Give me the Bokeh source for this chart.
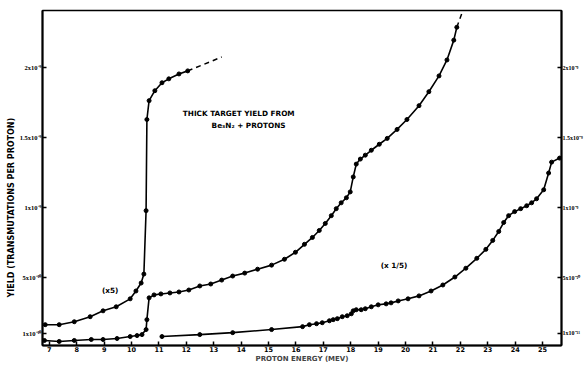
from bokeh.plotting import figure
from bokeh.models import LinearAxis, FixedTicker, Label, Range1d, Title
from bokeh.embed import file_html
from bokeh.resources import INLINE

# Yield values are plotted in units of 1e-10 transmutations per proton
# Curve "(x5)"
energy_x5 = [6.85, 7.36, 7.91, 8.49, 8.96, 9.44, 9.95, 10.16, 10.35, 10.45, 10.53, 10.56, 10.64, 10.85, 11.11, 11.36, 11.73, 12.05]
yield_x5 = [1.63, 1.63, 1.84, 2.20, 2.62, 2.91, 3.48, 4.04, 4.61, 5.25, 9.79, 16.31, 17.66, 18.37, 18.94, 19.22, 19.57, 19.79]
energy_x5_ext = [12.05, 13.29]
yield_x5_ext = [19.79, 20.78]

# Curve (x1)
energy_x1 = [6.82, 7.36, 7.91, 8.53, 8.96, 9.47, 9.95, 10.20, 10.38, 10.53, 10.56, 10.64, 10.82, 11.07, 11.40, 11.73,
             12.09, 12.49, 12.89, 13.29, 13.69, 14.13, 14.60, 15.11, 15.58, 15.98, 16.31, 16.60, 16.85, 17.07, 17.29,
             17.47, 17.65, 17.84, 17.98, 18.09, 18.20, 18.35, 18.53, 18.75, 19.04, 19.33, 19.69, 20.05, 20.49, 20.85,
             21.22, 21.51, 21.76, 21.87]
yield_x1 = [0.50, 0.43, 0.50, 0.57, 0.57, 0.64, 0.78, 0.85, 0.92, 1.28, 1.99, 3.55, 3.76, 3.83, 3.90, 3.97,
            4.11, 4.40, 4.54, 4.82, 5.11, 5.32, 5.60, 5.89, 6.31, 6.81, 7.38, 7.87, 8.37, 8.87, 9.43,
            9.93, 10.35, 10.71, 11.13, 12.20, 13.12, 13.48, 13.76, 14.11, 14.54, 14.96, 15.60, 16.31, 17.30, 18.30,
            19.43, 20.57, 21.99, 22.91]
energy_x1_ext = [21.87, 22.16]
yield_x1_ext = [22.91, 24.47]

# Curve "(x 1/5)"
energy_x15 = [11.11, 12.49, 13.69, 15.11, 16.24, 16.49, 16.75, 16.96, 17.22, 17.36, 17.51, 17.69, 17.87, 18.02, 18.09,
              18.20, 18.38, 18.53, 18.75, 19.00, 19.29, 19.47, 19.73, 20.09, 20.49, 20.93, 21.36, 21.80, 22.20, 22.60,
              22.93, 23.18, 23.40, 23.58, 23.76, 23.98, 24.20, 24.42, 24.60, 24.78, 25.04, 25.22, 25.33, 25.62]
yield_x15 = [0.78, 0.92, 1.06, 1.28, 1.49, 1.63, 1.70, 1.77, 1.91, 1.99, 2.06, 2.20, 2.27, 2.41, 2.62,
             2.70, 2.70, 2.77, 2.91, 3.05, 3.12, 3.19, 3.33, 3.48, 3.69, 4.04, 4.47, 5.04, 5.67, 6.38,
             7.02, 7.66, 8.30, 8.94, 9.43, 9.72, 9.93, 10.14, 10.35, 10.64, 11.28, 12.48, 13.26, 13.55]

x_ticks = list(range(7, 26))
y_ticks = [1, 5, 10, 15, 20]
left_labels = ["1x10⁻¹⁰", "5x10⁻¹⁰", "1x10⁻⁹", "1.5x10⁻⁹", "2x10⁻⁹"]
right_labels = ["1x10⁻¹¹", "5x10⁻¹⁰", "1x10⁻⁹", "1.5x10⁻⁹", "2x10⁻⁹"]

FONT = "DejaVu Sans"
NARROW = "Liberation Sans Narrow"

p = figure(width=585, height=365, output_backend="svg", toolbar_location=None,
           x_range=Range1d(6.75, 25.69), y_range=Range1d(0.14, 24.11),
           min_border_left=42, min_border_right=22, min_border_top=10, min_border_bottom=17)
p.xgrid.visible = False
p.ygrid.visible = False
p.outline_line_color = "black"
p.outline_line_width = 1.5
p.background_fill_color = "white"
p.border_fill_color = "white"


def style_axis(ax, font, size):
    ax.axis_line_color = "black"
    ax.axis_line_width = 2
    ax.major_tick_in = 4
    ax.major_tick_out = 0
    ax.major_tick_line_width = 1.5
    ax.minor_tick_line_color = None
    ax.major_label_text_font = font
    ax.major_label_text_font_style = "bold"
    ax.major_label_text_font_size = size
    ax.major_label_text_color = "black"
    ax.major_label_standoff = 1


p.xaxis.ticker = FixedTicker(ticks=x_ticks)
style_axis(p.xaxis[0], FONT, "6.5px")
p.xaxis.axis_label = "PROTON ENERGY (MEV)"
p.xaxis.axis_label_text_font = FONT
p.xaxis.axis_label_text_font_style = "bold"
p.xaxis.axis_label_text_font_size = "7px"
p.xaxis.axis_label_standoff = 0

p.yaxis.ticker = FixedTicker(ticks=y_ticks)
p.yaxis.major_label_overrides = dict(zip(y_ticks, left_labels))
style_axis(p.yaxis[0], NARROW, "6.5px")

raxis = LinearAxis(ticker=FixedTicker(ticks=y_ticks), major_label_overrides=dict(zip(y_ticks, right_labels)))
style_axis(raxis, NARROW, "6px")
p.add_layout(raxis, "right")

ytitle = Title(text="YIELD (TRANSMUTATIONS PER PROTON)", align="left", offset=48, standoff=2,
               text_font=FONT, text_font_style="bold", text_font_size="8px", text_color="black")
p.add_layout(ytitle, "left")

for ex, yv in [(energy_x5, yield_x5), (energy_x1, yield_x1), (energy_x15, yield_x15)]:
    p.line(ex, yv, line_color="black", line_width=1.6)
    p.scatter(ex, yv, size=4, color="black")
p.line(energy_x5_ext, yield_x5_ext, line_color="black", line_width=1.5, line_dash="5 4")
p.line(energy_x1_ext, yield_x1_ext, line_color="black", line_width=1.5, line_dash="5 4")

notes = [(13.91, 16.74, "THICK TARGET YIELD FROM"), (14.27, 15.89, "Be₃N₂ + PROTONS"),
         (9.22, 4.04, "(x5)"), (19.58, 5.89, "(x 1/5)")]
for nx, ny, t in notes:
    p.add_layout(Label(x=nx, y=ny, text=t, text_font=FONT, text_font_style="bold", text_font_size="7.3px",
                       text_align="center", text_baseline="middle", text_color="black"))

open("out.html", "w").write(file_html(p, INLINE))
